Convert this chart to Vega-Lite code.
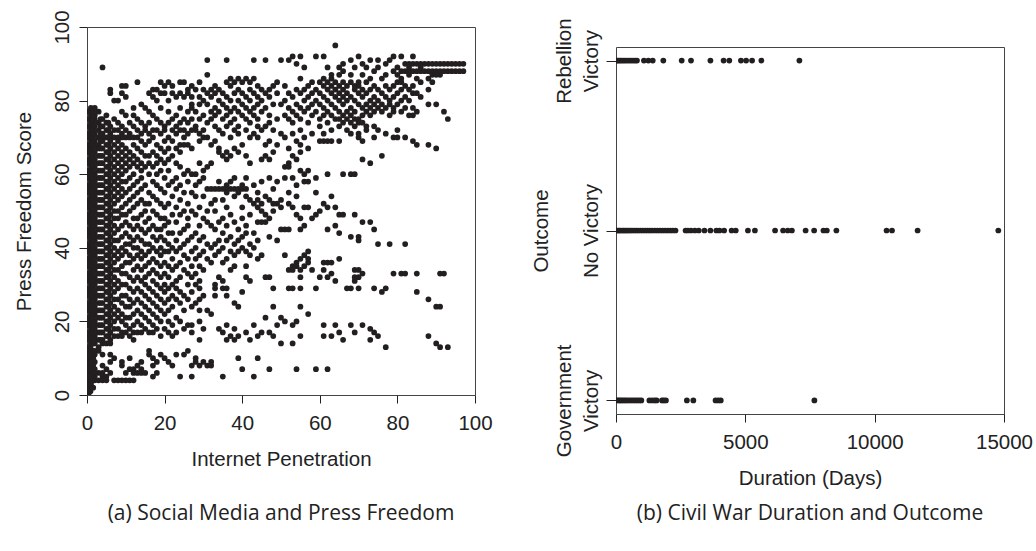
{
"$schema": "https://vega.github.io/schema/vega-lite/v6.json",
"background": "white",
"padding": {"left": 13, "top": 9, "right": 3, "bottom": 5},
"config": {
  "font": "Liberation Sans",
  "view": {"stroke": "#444", "strokeWidth": 1},
  "axis": {"grid": false, "domain": false, "ticks": true, "tickColor": "#222", "tickSize": 8, "labelFont": "Liberation Sans", "labelFontSize": 20.5, "labelColor": "#222", "titleFont": "Liberation Sans", "titleFontSize": 20.5, "titleFontWeight": "normal", "titleColor": "#222", "labelFlush": false, "labelOverlap": false},
  "title": {"font": "Open Sans", "fontSize": 21, "fontWeight": "normal", "color": "#222", "orient": "bottom", "anchor": "middle", "frame": "group"}
},
"datasets": {
"war": [
{"days":30,"outcome":"Rebellion Victory"},{"days":80,"outcome":"Rebellion Victory"},{"days":140,"outcome":"Rebellion Victory"},{"days":200,"outcome":"Rebellion Victory"},{"days":270,"outcome":"Rebellion Victory"},{"days":340,"outcome":"Rebellion Victory"},{"days":420,"outcome":"Rebellion Victory"},{"days":500,"outcome":"Rebellion Victory"},{"days":580,"outcome":"Rebellion Victory"},{"days":660,"outcome":"Rebellion Victory"},{"days":740,"outcome":"Rebellion Victory"},{"days":810,"outcome":"Rebellion Victory"},{"days":1080,"outcome":"Rebellion Victory"},{"days":1250,"outcome":"Rebellion Victory"},{"days":1420,"outcome":"Rebellion Victory"},{"days":1830,"outcome":"Rebellion Victory"},{"days":2540,"outcome":"Rebellion Victory"},{"days":2900,"outcome":"Rebellion Victory"},{"days":3650,"outcome":"Rebellion Victory"},{"days":4160,"outcome":"Rebellion Victory"},{"days":4380,"outcome":"Rebellion Victory"},{"days":4830,"outcome":"Rebellion Victory"},{"days":5030,"outcome":"Rebellion Victory"},{"days":5260,"outcome":"Rebellion Victory"},{"days":5620,"outcome":"Rebellion Victory"},{"days":7090,"outcome":"Rebellion Victory"},
{"days":30,"outcome":"No Victory"},{"days":80,"outcome":"No Victory"},{"days":130,"outcome":"No Victory"},{"days":180,"outcome":"No Victory"},{"days":250,"outcome":"No Victory"},{"days":300,"outcome":"No Victory"},{"days":360,"outcome":"No Victory"},{"days":420,"outcome":"No Victory"},{"days":480,"outcome":"No Victory"},{"days":550,"outcome":"No Victory"},{"days":620,"outcome":"No Victory"},{"days":700,"outcome":"No Victory"},{"days":780,"outcome":"No Victory"},{"days":860,"outcome":"No Victory"},{"days":950,"outcome":"No Victory"},{"days":1040,"outcome":"No Victory"},{"days":1130,"outcome":"No Victory"},{"days":1220,"outcome":"No Victory"},{"days":1310,"outcome":"No Victory"},{"days":1400,"outcome":"No Victory"},{"days":1500,"outcome":"No Victory"},{"days":1600,"outcome":"No Victory"},{"days":1700,"outcome":"No Victory"},{"days":1800,"outcome":"No Victory"},{"days":1900,"outcome":"No Victory"},{"days":2000,"outcome":"No Victory"},{"days":2100,"outcome":"No Victory"},{"days":2200,"outcome":"No Victory"},{"days":2300,"outcome":"No Victory"},{"days":2690,"outcome":"No Victory"},{"days":2780,"outcome":"No Victory"},{"days":2900,"outcome":"No Victory"},{"days":3050,"outcome":"No Victory"},{"days":3200,"outcome":"No Victory"},{"days":3420,"outcome":"No Victory"},{"days":3650,"outcome":"No Victory"},{"days":3880,"outcome":"No Victory"},{"days":4000,"outcome":"No Victory"},{"days":4180,"outcome":"No Victory"},{"days":4470,"outcome":"No Victory"},{"days":4630,"outcome":"No Victory"},{"days":5100,"outcome":"No Victory"},{"days":5370,"outcome":"No Victory"},{"days":6150,"outcome":"No Victory"},{"days":6460,"outcome":"No Victory"},{"days":6640,"outcome":"No Victory"},{"days":6800,"outcome":"No Victory"},{"days":7330,"outcome":"No Victory"},{"days":7660,"outcome":"No Victory"},{"days":8020,"outcome":"No Victory"},{"days":8150,"outcome":"No Victory"},{"days":8520,"outcome":"No Victory"},{"days":10460,"outcome":"No Victory"},{"days":10670,"outcome":"No Victory"},{"days":11660,"outcome":"No Victory"},{"days":14780,"outcome":"No Victory"},
{"days":30,"outcome":"Government Victory"},{"days":90,"outcome":"Government Victory"},{"days":150,"outcome":"Government Victory"},{"days":210,"outcome":"Government Victory"},{"days":280,"outcome":"Government Victory"},{"days":350,"outcome":"Government Victory"},{"days":420,"outcome":"Government Victory"},{"days":500,"outcome":"Government Victory"},{"days":580,"outcome":"Government Victory"},{"days":660,"outcome":"Government Victory"},{"days":740,"outcome":"Government Victory"},{"days":820,"outcome":"Government Victory"},{"days":900,"outcome":"Government Victory"},{"days":980,"outcome":"Government Victory"},{"days":1290,"outcome":"Government Victory"},{"days":1400,"outcome":"Government Victory"},{"days":1500,"outcome":"Government Victory"},{"days":1570,"outcome":"Government Victory"},{"days":1780,"outcome":"Government Victory"},{"days":1850,"outcome":"Government Victory"},{"days":1930,"outcome":"Government Victory"},{"days":2740,"outcome":"Government Victory"},{"days":2990,"outcome":"Government Victory"},{"days":3850,"outcome":"Government Victory"},{"days":3950,"outcome":"Government Victory"},{"days":4050,"outcome":"Government Victory"},{"days":7670,"outcome":"Government Victory"}
],
"press": [
{"net":64,"pf":95},
{"net":53,"pf":92},{"net":55,"pf":92},{"net":59,"pf":92},{"net":61,"pf":92},{"net":70,"pf":92},{"net":79,"pf":92},{"net":81,"pf":92},{"net":84,"pf":92},
{"net":31,"pf":91},{"net":36,"pf":91},{"net":43,"pf":91},{"net":46,"pf":91},{"net":50,"pf":91},{"net":52,"pf":91},{"net":68,"pf":91},{"net":73,"pf":91},{"net":75,"pf":91},{"net":78,"pf":91},
{"net":54,"pf":90},{"net":66,"pf":90},{"net":71,"pf":90},{"net":77,"pf":90},{"net":82,"pf":90},{"net":83,"pf":90},{"net":84,"pf":90},{"net":85,"pf":90},{"net":86,"pf":90},{"net":87,"pf":90},{"net":88,"pf":90},{"net":89,"pf":90},{"net":90,"pf":90},{"net":91,"pf":90},{"net":92,"pf":90},{"net":93,"pf":90},{"net":94,"pf":90},{"net":95,"pf":90},{"net":96,"pf":90},{"net":97,"pf":90},
{"net":4,"pf":89},{"net":56,"pf":89},{"net":62,"pf":89},{"net":65,"pf":89},{"net":69,"pf":89},{"net":72,"pf":89},{"net":75,"pf":89},{"net":80,"pf":89},{"net":83,"pf":89},{"net":86,"pf":89},
{"net":66,"pf":88},{"net":74,"pf":88},{"net":79,"pf":88},{"net":81,"pf":88},{"net":82,"pf":88},{"net":83,"pf":88},{"net":84,"pf":88},{"net":85,"pf":88},{"net":86,"pf":88},{"net":87,"pf":88},{"net":88,"pf":88},{"net":89,"pf":88},{"net":90,"pf":88},{"net":91,"pf":88},{"net":92,"pf":88},{"net":93,"pf":88},{"net":94,"pf":88},{"net":95,"pf":88},{"net":96,"pf":88},{"net":97,"pf":88},
{"net":31,"pf":87},{"net":63,"pf":87},{"net":65,"pf":87},{"net":68,"pf":87},{"net":71,"pf":87},{"net":77,"pf":87},{"net":80,"pf":87},{"net":83,"pf":87},{"net":89,"pf":87},{"net":90,"pf":87},{"net":91,"pf":87},
{"net":37,"pf":86},{"net":39,"pf":86},{"net":41,"pf":86},{"net":43,"pf":86},{"net":55,"pf":86},{"net":61,"pf":86},{"net":63,"pf":86},{"net":73,"pf":86},{"net":76,"pf":86},{"net":81,"pf":86},{"net":85,"pf":86},{"net":88,"pf":86},
{"net":13,"pf":85},{"net":19,"pf":85},{"net":21,"pf":85},{"net":24,"pf":85},{"net":25,"pf":85},{"net":29,"pf":85},{"net":36,"pf":85},{"net":38,"pf":85},{"net":40,"pf":85},{"net":42,"pf":85},{"net":49,"pf":85},{"net":58,"pf":85},{"net":60,"pf":85},{"net":62,"pf":85},{"net":64,"pf":85},{"net":66,"pf":85},{"net":68,"pf":85},{"net":70,"pf":85},{"net":72,"pf":85},{"net":80,"pf":85},{"net":81,"pf":85},{"net":86,"pf":85},{"net":89,"pf":85},
{"net":9,"pf":84},{"net":10,"pf":84},{"net":20,"pf":84},{"net":22,"pf":84},{"net":27,"pf":84},{"net":33,"pf":84},{"net":37,"pf":84},{"net":44,"pf":84},{"net":48,"pf":84},{"net":51,"pf":84},{"net":57,"pf":84},{"net":61,"pf":84},{"net":63,"pf":84},{"net":65,"pf":84},{"net":67,"pf":84},{"net":69,"pf":84},{"net":70,"pf":84},{"net":74,"pf":84},{"net":77,"pf":84},{"net":79,"pf":84},{"net":82,"pf":84},{"net":84,"pf":84},
{"net":6,"pf":83},{"net":17,"pf":83},{"net":18,"pf":83},{"net":26,"pf":83},{"net":28,"pf":83},{"net":30,"pf":83},{"net":32,"pf":83},{"net":34,"pf":83},{"net":39,"pf":83},{"net":42,"pf":83},{"net":45,"pf":83},{"net":47,"pf":83},{"net":54,"pf":83},{"net":56,"pf":83},{"net":59,"pf":83},{"net":62,"pf":83},{"net":64,"pf":83},{"net":66,"pf":83},{"net":69,"pf":83},{"net":71,"pf":83},{"net":73,"pf":83},{"net":75,"pf":83},{"net":78,"pf":83},{"net":81,"pf":83},{"net":83,"pf":83},{"net":88,"pf":83},
{"net":6,"pf":82},{"net":9,"pf":82},{"net":16,"pf":82},{"net":19,"pf":82},{"net":20,"pf":82},{"net":22,"pf":82},{"net":24,"pf":82},{"net":26,"pf":82},{"net":31,"pf":82},{"net":33,"pf":82},{"net":35,"pf":82},{"net":38,"pf":82},{"net":40,"pf":82},{"net":43,"pf":82},{"net":46,"pf":82},{"net":49,"pf":82},{"net":52,"pf":82},{"net":55,"pf":82},{"net":58,"pf":82},{"net":60,"pf":82},{"net":63,"pf":82},{"net":65,"pf":82},{"net":67,"pf":82},{"net":70,"pf":82},{"net":72,"pf":82},{"net":76,"pf":82},{"net":80,"pf":82},{"net":84,"pf":82},{"net":85,"pf":82},
{"net":10,"pf":81},{"net":17,"pf":81},{"net":23,"pf":81},{"net":25,"pf":81},{"net":27,"pf":81},{"net":29,"pf":81},{"net":32,"pf":81},{"net":36,"pf":81},{"net":41,"pf":81},{"net":44,"pf":81},{"net":47,"pf":81},{"net":53,"pf":81},{"net":57,"pf":81},{"net":61,"pf":81},{"net":64,"pf":81},{"net":66,"pf":81},{"net":68,"pf":81},{"net":71,"pf":81},{"net":74,"pf":81},{"net":77,"pf":81},{"net":79,"pf":81},{"net":82,"pf":81},{"net":86,"pf":81},
{"net":7,"pf":80},{"net":8,"pf":80},{"net":18,"pf":80},{"net":21,"pf":80},{"net":30,"pf":80},{"net":34,"pf":80},{"net":37,"pf":80},{"net":39,"pf":80},{"net":42,"pf":80},{"net":45,"pf":80},{"net":51,"pf":80},{"net":56,"pf":80},{"net":59,"pf":80},{"net":62,"pf":80},{"net":65,"pf":80},{"net":67,"pf":80},{"net":69,"pf":80},{"net":73,"pf":80},{"net":75,"pf":80},{"net":78,"pf":80},{"net":81,"pf":80},{"net":83,"pf":80},
{"net":14,"pf":79},{"net":27,"pf":79},{"net":29,"pf":79},{"net":31,"pf":79},{"net":35,"pf":79},{"net":40,"pf":79},{"net":44,"pf":79},{"net":48,"pf":79},{"net":50,"pf":79},{"net":54,"pf":79},{"net":58,"pf":79},{"net":60,"pf":79},{"net":63,"pf":79},{"net":66,"pf":79},{"net":70,"pf":79},{"net":72,"pf":79},{"net":74,"pf":79},{"net":76,"pf":79},{"net":78,"pf":79},{"net":80,"pf":79},{"net":88,"pf":79},{"net":90,"pf":79},
{"net":1,"pf":78},{"net":2,"pf":78},{"net":12,"pf":78},{"net":15,"pf":78},{"net":19,"pf":78},{"net":24,"pf":78},{"net":27,"pf":78},{"net":33,"pf":78},{"net":36,"pf":78},{"net":38,"pf":78},{"net":41,"pf":78},{"net":43,"pf":78},{"net":46,"pf":78},{"net":52,"pf":78},{"net":55,"pf":78},{"net":57,"pf":78},{"net":61,"pf":78},{"net":64,"pf":78},{"net":68,"pf":78},{"net":71,"pf":78},{"net":73,"pf":78},{"net":75,"pf":78},{"net":77,"pf":78},{"net":79,"pf":78},{"net":82,"pf":78},{"net":84,"pf":78},
{"net":0.4,"pf":77},{"net":3,"pf":77},{"net":9,"pf":77},{"net":16,"pf":77},{"net":21,"pf":77},{"net":26,"pf":77},{"net":28,"pf":77},{"net":32,"pf":77},{"net":34,"pf":77},{"net":37,"pf":77},{"net":39,"pf":77},{"net":42,"pf":77},{"net":45,"pf":77},{"net":53,"pf":77},{"net":56,"pf":77},{"net":59,"pf":77},{"net":62,"pf":77},{"net":65,"pf":77},{"net":67,"pf":77},{"net":69,"pf":77},{"net":72,"pf":77},{"net":74,"pf":77},{"net":76,"pf":77},{"net":79,"pf":77},{"net":81,"pf":77},{"net":85,"pf":77},{"net":92,"pf":77},
{"net":1,"pf":76},{"net":2,"pf":76},{"net":5,"pf":76},{"net":10,"pf":76},{"net":12,"pf":76},{"net":17,"pf":76},{"net":23,"pf":76},{"net":30,"pf":76},{"net":33,"pf":76},{"net":36,"pf":76},{"net":40,"pf":76},{"net":43,"pf":76},{"net":47,"pf":76},{"net":51,"pf":76},{"net":54,"pf":76},{"net":58,"pf":76},{"net":61,"pf":76},{"net":63,"pf":76},{"net":66,"pf":76},{"net":68,"pf":76},{"net":71,"pf":76},{"net":73,"pf":76},{"net":78,"pf":76},{"net":83,"pf":76},{"net":84,"pf":76},
{"net":0.4,"pf":75},{"net":2,"pf":75},{"net":4,"pf":75},{"net":7,"pf":75},{"net":13,"pf":75},{"net":18,"pf":75},{"net":22,"pf":75},{"net":25,"pf":75},{"net":27,"pf":75},{"net":29,"pf":75},{"net":32,"pf":75},{"net":35,"pf":75},{"net":38,"pf":75},{"net":41,"pf":75},{"net":44,"pf":75},{"net":49,"pf":75},{"net":52,"pf":75},{"net":55,"pf":75},{"net":60,"pf":75},{"net":64,"pf":75},{"net":65,"pf":75},{"net":67,"pf":75},{"net":69,"pf":75},{"net":70,"pf":75},{"net":93,"pf":75},
{"net":1,"pf":74},{"net":3,"pf":74},{"net":5,"pf":74},{"net":8,"pf":74},{"net":11,"pf":74},{"net":14,"pf":74},{"net":16,"pf":74},{"net":19,"pf":74},{"net":21,"pf":74},{"net":24,"pf":74},{"net":26,"pf":74},{"net":31,"pf":74},{"net":37,"pf":74},{"net":42,"pf":74},{"net":47,"pf":74},{"net":53,"pf":74},{"net":57,"pf":74},{"net":62,"pf":74},{"net":66,"pf":74},{"net":68,"pf":74},{"net":70,"pf":74},{"net":71,"pf":74},
{"net":0.4,"pf":73},{"net":2,"pf":73},{"net":4,"pf":73},{"net":6,"pf":73},{"net":9,"pf":73},{"net":12,"pf":73},{"net":15,"pf":73},{"net":20,"pf":73},{"net":23,"pf":73},{"net":28,"pf":73},{"net":33,"pf":73},{"net":36,"pf":73},{"net":39,"pf":73},{"net":44,"pf":73},{"net":46,"pf":73},{"net":60,"pf":73},{"net":65,"pf":73},{"net":69,"pf":73},{"net":72,"pf":73},{"net":74,"pf":73},
{"net":1,"pf":72},{"net":3,"pf":72},{"net":5,"pf":72},{"net":7,"pf":72},{"net":8,"pf":72},{"net":10,"pf":72},{"net":13,"pf":72},{"net":15,"pf":72},{"net":17,"pf":72},{"net":18,"pf":72},{"net":20,"pf":72},{"net":22,"pf":72},{"net":24,"pf":72},{"net":25,"pf":72},{"net":27,"pf":72},{"net":28,"pf":72},{"net":30,"pf":72},{"net":34,"pf":72},{"net":38,"pf":72},{"net":41,"pf":72},{"net":45,"pf":72},{"net":48,"pf":72},{"net":55,"pf":72},{"net":63,"pf":72},{"net":67,"pf":72},{"net":72,"pf":72},{"net":75,"pf":72},{"net":80,"pf":72},
{"net":0.4,"pf":71},{"net":2,"pf":71},{"net":4,"pf":71},{"net":6,"pf":71},{"net":9,"pf":71},{"net":11,"pf":71},{"net":14,"pf":71},{"net":16,"pf":71},{"net":19,"pf":71},{"net":23,"pf":71},{"net":26,"pf":71},{"net":29,"pf":71},{"net":35,"pf":71},{"net":39,"pf":71},{"net":43,"pf":71},{"net":50,"pf":71},{"net":53,"pf":71},{"net":58,"pf":71},{"net":61,"pf":71},{"net":68,"pf":71},{"net":70,"pf":71},{"net":77,"pf":71},
{"net":0.4,"pf":70},{"net":1,"pf":70},{"net":3,"pf":70},{"net":4,"pf":70},{"net":5,"pf":70},{"net":6,"pf":70},{"net":7,"pf":70},{"net":8,"pf":70},{"net":9,"pf":70},{"net":10,"pf":70},{"net":11,"pf":70},{"net":12,"pf":70},{"net":13,"pf":70},{"net":17,"pf":70},{"net":21,"pf":70},{"net":25,"pf":70},{"net":30,"pf":70},{"net":31,"pf":70},{"net":37,"pf":70},{"net":42,"pf":70},{"net":44,"pf":70},{"net":51,"pf":70},{"net":56,"pf":70},{"net":70,"pf":70},{"net":74,"pf":70},{"net":79,"pf":70},{"net":80,"pf":70},{"net":82,"pf":70},
{"net":1,"pf":69},{"net":2,"pf":69},{"net":4,"pf":69},{"net":6,"pf":69},{"net":8,"pf":69},{"net":14,"pf":69},{"net":16,"pf":69},{"net":20,"pf":69},{"net":22,"pf":69},{"net":29,"pf":69},{"net":33,"pf":69},{"net":47,"pf":69},{"net":54,"pf":69},{"net":60,"pf":69},{"net":61,"pf":69},{"net":62,"pf":69},{"net":63,"pf":69},{"net":65,"pf":69},{"net":71,"pf":69},{"net":84,"pf":69},
{"net":0.4,"pf":68},{"net":2,"pf":68},{"net":3,"pf":68},{"net":5,"pf":68},{"net":7,"pf":68},{"net":9,"pf":68},{"net":12,"pf":68},{"net":15,"pf":68},{"net":18,"pf":68},{"net":24,"pf":68},{"net":25,"pf":68},{"net":26,"pf":68},{"net":32,"pf":68},{"net":40,"pf":68},{"net":46,"pf":68},{"net":49,"pf":68},{"net":55,"pf":68},{"net":85,"pf":68},{"net":88,"pf":68},
{"net":0.4,"pf":67},{"net":1,"pf":67},{"net":3,"pf":67},{"net":4,"pf":67},{"net":6,"pf":67},{"net":8,"pf":67},{"net":10,"pf":67},{"net":13,"pf":67},{"net":19,"pf":67},{"net":21,"pf":67},{"net":23,"pf":67},{"net":27,"pf":67},{"net":34,"pf":67},{"net":38,"pf":67},{"net":52,"pf":67},{"net":57,"pf":67},{"net":90,"pf":67},
{"net":0.4,"pf":66},{"net":2,"pf":66},{"net":5,"pf":66},{"net":7,"pf":66},{"net":9,"pf":66},{"net":11,"pf":66},{"net":14,"pf":66},{"net":17,"pf":66},{"net":20,"pf":66},{"net":24,"pf":66},{"net":34,"pf":66},{"net":36,"pf":66},{"net":39,"pf":66},{"net":48,"pf":66},{"net":55,"pf":66},
{"net":1,"pf":65},{"net":3,"pf":65},{"net":4,"pf":65},{"net":6,"pf":65},{"net":8,"pf":65},{"net":10,"pf":65},{"net":12,"pf":65},{"net":15,"pf":65},{"net":16,"pf":65},{"net":18,"pf":65},{"net":22,"pf":65},{"net":35,"pf":65},{"net":37,"pf":65},{"net":41,"pf":65},{"net":46,"pf":65},{"net":53,"pf":65},{"net":76,"pf":65},
{"net":0.4,"pf":64},{"net":2,"pf":64},{"net":5,"pf":64},{"net":7,"pf":64},{"net":9,"pf":64},{"net":11,"pf":64},{"net":13,"pf":64},{"net":19,"pf":64},{"net":21,"pf":64},{"net":36,"pf":64},{"net":45,"pf":64},{"net":47,"pf":64},{"net":54,"pf":64},{"net":71,"pf":64},
{"net":0.4,"pf":63},{"net":1,"pf":63},{"net":3,"pf":63},{"net":4,"pf":63},{"net":6,"pf":63},{"net":8,"pf":63},{"net":10,"pf":63},{"net":12,"pf":63},{"net":14,"pf":63},{"net":16,"pf":63},{"net":18,"pf":63},{"net":20,"pf":63},{"net":23,"pf":63},{"net":29,"pf":63},{"net":32,"pf":63},{"net":42,"pf":63},{"net":52,"pf":63},{"net":73,"pf":63},
{"net":1,"pf":62},{"net":2,"pf":62},{"net":5,"pf":62},{"net":7,"pf":62},{"net":9,"pf":62},{"net":11,"pf":62},{"net":13,"pf":62},{"net":15,"pf":62},{"net":17,"pf":62},{"net":24,"pf":62},{"net":31,"pf":62},{"net":51,"pf":62},{"net":52,"pf":62},
{"net":0.4,"pf":61},{"net":3,"pf":61},{"net":4,"pf":61},{"net":6,"pf":61},{"net":8,"pf":61},{"net":10,"pf":61},{"net":14,"pf":61},{"net":19,"pf":61},{"net":21,"pf":61},{"net":26,"pf":61},{"net":30,"pf":61},{"net":55,"pf":61},{"net":57,"pf":61},
{"net":0.4,"pf":60},{"net":1,"pf":60},{"net":2,"pf":60},{"net":5,"pf":60},{"net":7,"pf":60},{"net":9,"pf":60},{"net":12,"pf":60},{"net":16,"pf":60},{"net":18,"pf":60},{"net":25,"pf":60},{"net":27,"pf":60},{"net":28,"pf":60},{"net":56,"pf":60},{"net":62,"pf":60},{"net":66,"pf":60},{"net":68,"pf":60},{"net":69,"pf":60},
{"net":0.4,"pf":59},{"net":2,"pf":59},{"net":3,"pf":59},{"net":4,"pf":59},{"net":6,"pf":59},{"net":8,"pf":59},{"net":11,"pf":59},{"net":14,"pf":59},{"net":20,"pf":59},{"net":23,"pf":59},{"net":30,"pf":59},{"net":38,"pf":59},{"net":41,"pf":59},{"net":47,"pf":59},{"net":51,"pf":59},{"net":53,"pf":59},{"net":59,"pf":59},
{"net":1,"pf":58},{"net":2,"pf":58},{"net":5,"pf":58},{"net":7,"pf":58},{"net":9,"pf":58},{"net":10,"pf":58},{"net":13,"pf":58},{"net":17,"pf":58},{"net":22,"pf":58},{"net":26,"pf":58},{"net":29,"pf":58},{"net":34,"pf":58},{"net":37,"pf":58},{"net":45,"pf":58},{"net":49,"pf":58},{"net":56,"pf":58},{"net":57,"pf":58},
{"net":0.4,"pf":57},{"net":3,"pf":57},{"net":4,"pf":57},{"net":6,"pf":57},{"net":8,"pf":57},{"net":12,"pf":57},{"net":15,"pf":57},{"net":18,"pf":57},{"net":21,"pf":57},{"net":24,"pf":57},{"net":28,"pf":57},{"net":36,"pf":57},{"net":40,"pf":57},{"net":43,"pf":57},{"net":54,"pf":57},
{"net":0.4,"pf":56},{"net":1,"pf":56},{"net":2,"pf":56},{"net":5,"pf":56},{"net":7,"pf":56},{"net":9,"pf":56},{"net":11,"pf":56},{"net":14,"pf":56},{"net":19,"pf":56},{"net":23,"pf":56},{"net":31,"pf":56},{"net":32,"pf":56},{"net":33,"pf":56},{"net":34,"pf":56},{"net":35,"pf":56},{"net":36,"pf":56},{"net":37,"pf":56},{"net":38,"pf":56},{"net":39,"pf":56},{"net":40,"pf":56},{"net":41,"pf":56},{"net":48,"pf":56},
{"net":0.4,"pf":55},{"net":2,"pf":55},{"net":3,"pf":55},{"net":4,"pf":55},{"net":6,"pf":55},{"net":8,"pf":55},{"net":10,"pf":55},{"net":13,"pf":55},{"net":16,"pf":55},{"net":20,"pf":55},{"net":25,"pf":55},{"net":27,"pf":55},{"net":36,"pf":55},{"net":39,"pf":55},{"net":44,"pf":55},{"net":52,"pf":55},{"net":59,"pf":55},
{"net":1,"pf":54},{"net":2,"pf":54},{"net":5,"pf":54},{"net":7,"pf":54},{"net":9,"pf":54},{"net":12,"pf":54},{"net":17,"pf":54},{"net":22,"pf":54},{"net":28,"pf":54},{"net":30,"pf":54},{"net":38,"pf":54},{"net":41,"pf":54},{"net":46,"pf":54},{"net":54,"pf":54},{"net":63,"pf":54},
{"net":0.4,"pf":53},{"net":3,"pf":53},{"net":4,"pf":53},{"net":6,"pf":53},{"net":8,"pf":53},{"net":11,"pf":53},{"net":14,"pf":53},{"net":18,"pf":53},{"net":24,"pf":53},{"net":33,"pf":53},{"net":35,"pf":53},{"net":42,"pf":53},{"net":44,"pf":53},{"net":47,"pf":53},{"net":50,"pf":53},
{"net":0.4,"pf":52},{"net":1,"pf":52},{"net":2,"pf":52},{"net":5,"pf":52},{"net":7,"pf":52},{"net":10,"pf":52},{"net":13,"pf":52},{"net":15,"pf":52},{"net":16,"pf":52},{"net":19,"pf":52},{"net":21,"pf":52},{"net":26,"pf":52},{"net":32,"pf":52},{"net":43,"pf":52},{"net":45,"pf":52},{"net":48,"pf":52},{"net":49,"pf":52},{"net":52,"pf":52},{"net":61,"pf":52},
{"net":0.4,"pf":51},{"net":2,"pf":51},{"net":3,"pf":51},{"net":4,"pf":51},{"net":6,"pf":51},{"net":9,"pf":51},{"net":12,"pf":51},{"net":20,"pf":51},{"net":23,"pf":51},{"net":29,"pf":51},{"net":36,"pf":51},{"net":40,"pf":51},{"net":44,"pf":51},{"net":50,"pf":51},{"net":53,"pf":51},{"net":56,"pf":51},{"net":57,"pf":51},{"net":62,"pf":51},{"net":64,"pf":51},
{"net":1,"pf":50},{"net":2,"pf":50},{"net":5,"pf":50},{"net":7,"pf":50},{"net":8,"pf":50},{"net":11,"pf":50},{"net":15,"pf":50},{"net":17,"pf":50},{"net":25,"pf":50},{"net":27,"pf":50},{"net":31,"pf":50},{"net":33,"pf":50},{"net":45,"pf":50},{"net":48,"pf":50},{"net":60,"pf":50},
{"net":0.4,"pf":49},{"net":3,"pf":49},{"net":4,"pf":49},{"net":6,"pf":49},{"net":9,"pf":49},{"net":10,"pf":49},{"net":14,"pf":49},{"net":18,"pf":49},{"net":22,"pf":49},{"net":24,"pf":49},{"net":28,"pf":49},{"net":37,"pf":49},{"net":42,"pf":49},{"net":46,"pf":49},{"net":54,"pf":49},{"net":59,"pf":49},{"net":65,"pf":49},{"net":66,"pf":49},{"net":69,"pf":49},
{"net":0.4,"pf":48},{"net":1,"pf":48},{"net":2,"pf":48},{"net":5,"pf":48},{"net":7,"pf":48},{"net":8,"pf":48},{"net":12,"pf":48},{"net":13,"pf":48},{"net":16,"pf":48},{"net":19,"pf":48},{"net":20,"pf":48},{"net":26,"pf":48},{"net":30,"pf":48},{"net":35,"pf":48},{"net":40,"pf":48},{"net":47,"pf":48},{"net":55,"pf":48},{"net":58,"pf":48},
{"net":0.4,"pf":47},{"net":2,"pf":47},{"net":3,"pf":47},{"net":4,"pf":47},{"net":6,"pf":47},{"net":10,"pf":47},{"net":15,"pf":47},{"net":21,"pf":47},{"net":23,"pf":47},{"net":31,"pf":47},{"net":34,"pf":47},{"net":38,"pf":47},{"net":44,"pf":47},{"net":45,"pf":47},{"net":46,"pf":47},{"net":71,"pf":47},{"net":73,"pf":47},
{"net":1,"pf":46},{"net":2,"pf":46},{"net":5,"pf":46},{"net":7,"pf":46},{"net":9,"pf":46},{"net":11,"pf":46},{"net":13,"pf":46},{"net":17,"pf":46},{"net":20,"pf":46},{"net":26,"pf":46},{"net":29,"pf":46},{"net":32,"pf":46},{"net":36,"pf":46},{"net":41,"pf":46},{"net":56,"pf":46},{"net":64,"pf":46},
{"net":0.4,"pf":45},{"net":3,"pf":45},{"net":4,"pf":45},{"net":6,"pf":45},{"net":8,"pf":45},{"net":12,"pf":45},{"net":14,"pf":45},{"net":16,"pf":45},{"net":18,"pf":45},{"net":19,"pf":45},{"net":25,"pf":45},{"net":33,"pf":45},{"net":39,"pf":45},{"net":50,"pf":45},{"net":51,"pf":45},{"net":52,"pf":45},{"net":55,"pf":45},{"net":62,"pf":45},{"net":74,"pf":45},
{"net":0.4,"pf":44},{"net":1,"pf":44},{"net":2,"pf":44},{"net":5,"pf":44},{"net":7,"pf":44},{"net":10,"pf":44},{"net":15,"pf":44},{"net":21,"pf":44},{"net":22,"pf":44},{"net":24,"pf":44},{"net":28,"pf":44},{"net":35,"pf":44},{"net":41,"pf":44},{"net":43,"pf":44},{"net":65,"pf":44},
{"net":0.4,"pf":43},{"net":2,"pf":43},{"net":3,"pf":43},{"net":4,"pf":43},{"net":6,"pf":43},{"net":9,"pf":43},{"net":11,"pf":43},{"net":13,"pf":43},{"net":17,"pf":43},{"net":19,"pf":43},{"net":27,"pf":43},{"net":30,"pf":43},{"net":37,"pf":43},{"net":40,"pf":43},{"net":47,"pf":43},{"net":68,"pf":43},{"net":70,"pf":43},
{"net":1,"pf":42},{"net":2,"pf":42},{"net":5,"pf":42},{"net":7,"pf":42},{"net":8,"pf":42},{"net":12,"pf":42},{"net":14,"pf":42},{"net":18,"pf":42},{"net":20,"pf":42},{"net":23,"pf":42},{"net":26,"pf":42},{"net":29,"pf":42},{"net":34,"pf":42},{"net":36,"pf":42},{"net":39,"pf":42},{"net":44,"pf":42},{"net":49,"pf":42},{"net":70,"pf":42},
{"net":0.4,"pf":41},{"net":3,"pf":41},{"net":4,"pf":41},{"net":6,"pf":41},{"net":10,"pf":41},{"net":11,"pf":41},{"net":15,"pf":41},{"net":16,"pf":41},{"net":21,"pf":41},{"net":25,"pf":41},{"net":31,"pf":41},{"net":33,"pf":41},{"net":38,"pf":41},{"net":42,"pf":41},{"net":75,"pf":41},{"net":78,"pf":41},{"net":82,"pf":41},
{"net":0.4,"pf":40},{"net":1,"pf":40},{"net":2,"pf":40},{"net":5,"pf":40},{"net":7,"pf":40},{"net":9,"pf":40},{"net":12,"pf":40},{"net":13,"pf":40},{"net":17,"pf":40},{"net":19,"pf":40},{"net":22,"pf":40},{"net":24,"pf":40},{"net":28,"pf":40},{"net":32,"pf":40},{"net":35,"pf":40},{"net":40,"pf":40},{"net":43,"pf":40},
{"net":0.4,"pf":39},{"net":2,"pf":39},{"net":3,"pf":39},{"net":4,"pf":39},{"net":6,"pf":39},{"net":8,"pf":39},{"net":10,"pf":39},{"net":14,"pf":39},{"net":16,"pf":39},{"net":18,"pf":39},{"net":20,"pf":39},{"net":21,"pf":39},{"net":23,"pf":39},{"net":27,"pf":39},{"net":30,"pf":39},{"net":34,"pf":39},{"net":37,"pf":39},{"net":39,"pf":39},{"net":41,"pf":39},{"net":57,"pf":39},
{"net":1,"pf":38},{"net":2,"pf":38},{"net":5,"pf":38},{"net":7,"pf":38},{"net":9,"pf":38},{"net":11,"pf":38},{"net":13,"pf":38},{"net":15,"pf":38},{"net":19,"pf":38},{"net":25,"pf":38},{"net":29,"pf":38},{"net":33,"pf":38},{"net":38,"pf":38},{"net":42,"pf":38},{"net":45,"pf":38},{"net":51,"pf":38},{"net":56,"pf":38},
{"net":0.4,"pf":37},{"net":3,"pf":37},{"net":4,"pf":37},{"net":6,"pf":37},{"net":8,"pf":37},{"net":12,"pf":37},{"net":14,"pf":37},{"net":17,"pf":37},{"net":22,"pf":37},{"net":26,"pf":37},{"net":28,"pf":37},{"net":31,"pf":37},{"net":36,"pf":37},{"net":44,"pf":37},{"net":55,"pf":37},{"net":57,"pf":37},{"net":65,"pf":37},
{"net":0.4,"pf":36},{"net":1,"pf":36},{"net":2,"pf":36},{"net":5,"pf":36},{"net":7,"pf":36},{"net":10,"pf":36},{"net":11,"pf":36},{"net":16,"pf":36},{"net":18,"pf":36},{"net":20,"pf":36},{"net":24,"pf":36},{"net":32,"pf":36},{"net":35,"pf":36},{"net":54,"pf":36},{"net":57,"pf":36},{"net":61,"pf":36},{"net":62,"pf":36},{"net":63,"pf":36},
{"net":0.4,"pf":35},{"net":2,"pf":35},{"net":3,"pf":35},{"net":4,"pf":35},{"net":6,"pf":35},{"net":9,"pf":35},{"net":13,"pf":35},{"net":15,"pf":35},{"net":19,"pf":35},{"net":21,"pf":35},{"net":23,"pf":35},{"net":27,"pf":35},{"net":29,"pf":35},{"net":38,"pf":35},{"net":41,"pf":35},{"net":53,"pf":35},{"net":54,"pf":35},{"net":56,"pf":35},
{"net":1,"pf":34},{"net":2,"pf":34},{"net":5,"pf":34},{"net":7,"pf":34},{"net":8,"pf":34},{"net":12,"pf":34},{"net":14,"pf":34},{"net":17,"pf":34},{"net":22,"pf":34},{"net":25,"pf":34},{"net":30,"pf":34},{"net":37,"pf":34},{"net":52,"pf":34},{"net":53,"pf":34},{"net":55,"pf":34},{"net":58,"pf":34},{"net":61,"pf":34},{"net":69,"pf":34},{"net":70,"pf":34},
{"net":0.4,"pf":33},{"net":3,"pf":33},{"net":4,"pf":33},{"net":6,"pf":33},{"net":9,"pf":33},{"net":10,"pf":33},{"net":16,"pf":33},{"net":18,"pf":33},{"net":20,"pf":33},{"net":26,"pf":33},{"net":28,"pf":33},{"net":63,"pf":33},{"net":71,"pf":33},{"net":79,"pf":33},{"net":81,"pf":33},{"net":82,"pf":33},{"net":85,"pf":33},{"net":91,"pf":33},{"net":92,"pf":33},
{"net":0.4,"pf":32},{"net":1,"pf":32},{"net":2,"pf":32},{"net":5,"pf":32},{"net":7,"pf":32},{"net":11,"pf":32},{"net":13,"pf":32},{"net":15,"pf":32},{"net":19,"pf":32},{"net":21,"pf":32},{"net":24,"pf":32},{"net":27,"pf":32},{"net":34,"pf":32},{"net":41,"pf":32},{"net":46,"pf":32},{"net":47,"pf":32},{"net":55,"pf":32},{"net":60,"pf":32},{"net":62,"pf":32},{"net":69,"pf":32},{"net":70,"pf":32},
{"net":0.4,"pf":31},{"net":2,"pf":31},{"net":3,"pf":31},{"net":4,"pf":31},{"net":6,"pf":31},{"net":8,"pf":31},{"net":12,"pf":31},{"net":14,"pf":31},{"net":17,"pf":31},{"net":23,"pf":31},{"net":29,"pf":31},{"net":35,"pf":31},{"net":42,"pf":31},{"net":64,"pf":31},{"net":69,"pf":31},
{"net":1,"pf":30},{"net":2,"pf":30},{"net":5,"pf":30},{"net":7,"pf":30},{"net":9,"pf":30},{"net":10,"pf":30},{"net":15,"pf":30},{"net":18,"pf":30},{"net":20,"pf":30},{"net":22,"pf":30},{"net":26,"pf":30},{"net":28,"pf":30},{"net":33,"pf":30},
{"net":0.4,"pf":29},{"net":3,"pf":29},{"net":4,"pf":29},{"net":6,"pf":29},{"net":8,"pf":29},{"net":11,"pf":29},{"net":13,"pf":29},{"net":16,"pf":29},{"net":19,"pf":29},{"net":21,"pf":29},{"net":23,"pf":29},{"net":29,"pf":29},{"net":33,"pf":29},{"net":35,"pf":29},{"net":36,"pf":29},{"net":48,"pf":29},{"net":52,"pf":29},{"net":53,"pf":29},{"net":55,"pf":29},{"net":59,"pf":29},{"net":67,"pf":29},{"net":68,"pf":29},{"net":70,"pf":29},{"net":74,"pf":29},{"net":77,"pf":29},
{"net":0.4,"pf":28},{"net":1,"pf":28},{"net":2,"pf":28},{"net":5,"pf":28},{"net":7,"pf":28},{"net":12,"pf":28},{"net":14,"pf":28},{"net":17,"pf":28},{"net":20,"pf":28},{"net":24,"pf":28},{"net":27,"pf":28},{"net":40,"pf":28},{"net":76,"pf":28},{"net":85,"pf":28},
{"net":0.4,"pf":27},{"net":2,"pf":27},{"net":3,"pf":27},{"net":4,"pf":27},{"net":6,"pf":27},{"net":9,"pf":27},{"net":10,"pf":27},{"net":15,"pf":27},{"net":18,"pf":27},{"net":22,"pf":27},{"net":25,"pf":27},{"net":30,"pf":27},{"net":33,"pf":27},{"net":36,"pf":27},
{"net":1,"pf":26},{"net":2,"pf":26},{"net":5,"pf":26},{"net":7,"pf":26},{"net":8,"pf":26},{"net":11,"pf":26},{"net":13,"pf":26},{"net":16,"pf":26},{"net":19,"pf":26},{"net":21,"pf":26},{"net":23,"pf":26},{"net":26,"pf":26},{"net":29,"pf":26},{"net":88,"pf":26},
{"net":0.4,"pf":25},{"net":3,"pf":25},{"net":4,"pf":25},{"net":6,"pf":25},{"net":9,"pf":25},{"net":12,"pf":25},{"net":14,"pf":25},{"net":17,"pf":25},{"net":20,"pf":25},{"net":24,"pf":25},{"net":28,"pf":25},{"net":38,"pf":25},
{"net":0.4,"pf":24},{"net":1,"pf":24},{"net":2,"pf":24},{"net":5,"pf":24},{"net":7,"pf":24},{"net":10,"pf":24},{"net":11,"pf":24},{"net":15,"pf":24},{"net":18,"pf":24},{"net":22,"pf":24},{"net":27,"pf":24},{"net":39,"pf":24},{"net":48,"pf":24},{"net":55,"pf":24},{"net":90,"pf":24},{"net":91,"pf":24},
{"net":0.4,"pf":23},{"net":2,"pf":23},{"net":3,"pf":23},{"net":4,"pf":23},{"net":6,"pf":23},{"net":8,"pf":23},{"net":13,"pf":23},{"net":16,"pf":23},{"net":19,"pf":23},{"net":21,"pf":23},{"net":25,"pf":23},{"net":29,"pf":23},{"net":31,"pf":23},
{"net":1,"pf":22},{"net":2,"pf":22},{"net":5,"pf":22},{"net":7,"pf":22},{"net":9,"pf":22},{"net":12,"pf":22},{"net":14,"pf":22},{"net":17,"pf":22},{"net":20,"pf":22},{"net":32,"pf":22},{"net":57,"pf":22},
{"net":0.4,"pf":21},{"net":3,"pf":21},{"net":4,"pf":21},{"net":6,"pf":21},{"net":8,"pf":21},{"net":10,"pf":21},{"net":11,"pf":21},{"net":15,"pf":21},{"net":18,"pf":21},{"net":23,"pf":21},{"net":46,"pf":21},{"net":50,"pf":21},
{"net":0.4,"pf":20},{"net":1,"pf":20},{"net":2,"pf":20},{"net":5,"pf":20},{"net":7,"pf":20},{"net":9,"pf":20},{"net":13,"pf":20},{"net":16,"pf":20},{"net":19,"pf":20},{"net":21,"pf":20},{"net":24,"pf":20},{"net":29,"pf":20},{"net":51,"pf":20},{"net":54,"pf":20},
{"net":0.4,"pf":19},{"net":2,"pf":19},{"net":3,"pf":19},{"net":4,"pf":19},{"net":6,"pf":19},{"net":10,"pf":19},{"net":12,"pf":19},{"net":14,"pf":19},{"net":17,"pf":19},{"net":22,"pf":19},{"net":26,"pf":19},{"net":27,"pf":19},{"net":36,"pf":19},{"net":43,"pf":19},{"net":49,"pf":19},{"net":53,"pf":19},{"net":61,"pf":19},{"net":64,"pf":19},{"net":68,"pf":19},{"net":71,"pf":19},
{"net":1,"pf":18},{"net":2,"pf":18},{"net":5,"pf":18},{"net":7,"pf":18},{"net":8,"pf":18},{"net":11,"pf":18},{"net":15,"pf":18},{"net":18,"pf":18},{"net":20,"pf":18},{"net":25,"pf":18},{"net":30,"pf":18},{"net":34,"pf":18},{"net":38,"pf":18},{"net":73,"pf":18},
{"net":0.4,"pf":17},{"net":3,"pf":17},{"net":4,"pf":17},{"net":6,"pf":17},{"net":9,"pf":17},{"net":10,"pf":17},{"net":12,"pf":17},{"net":13,"pf":17},{"net":14,"pf":17},{"net":16,"pf":17},{"net":17,"pf":17},{"net":21,"pf":17},{"net":23,"pf":17},{"net":27,"pf":17},{"net":35,"pf":17},{"net":41,"pf":17},{"net":45,"pf":17},{"net":47,"pf":17},{"net":65,"pf":17},{"net":69,"pf":17},{"net":74,"pf":17},
{"net":0.4,"pf":16},{"net":1,"pf":16},{"net":2,"pf":16},{"net":5,"pf":16},{"net":7,"pf":16},{"net":8,"pf":16},{"net":9,"pf":16},{"net":11,"pf":16},{"net":19,"pf":16},{"net":22,"pf":16},{"net":37,"pf":16},{"net":39,"pf":16},{"net":44,"pf":16},{"net":48,"pf":16},{"net":55,"pf":16},{"net":61,"pf":16},{"net":63,"pf":16},{"net":75,"pf":16},{"net":88,"pf":16},
{"net":0.4,"pf":15},{"net":2,"pf":15},{"net":3,"pf":15},{"net":4,"pf":15},{"net":6,"pf":15},{"net":12,"pf":15},{"net":29,"pf":15},{"net":36,"pf":15},{"net":38,"pf":15},{"net":42,"pf":15},{"net":66,"pf":15},{"net":73,"pf":15},
{"net":1,"pf":14},{"net":2,"pf":14},{"net":4,"pf":14},{"net":5,"pf":14},{"net":6,"pf":14},{"net":50,"pf":14},{"net":53,"pf":14},{"net":90,"pf":14},
{"net":0.4,"pf":13},{"net":3,"pf":13},{"net":77,"pf":13},{"net":91,"pf":13},{"net":93,"pf":13},
{"net":0.4,"pf":12},{"net":1,"pf":12},{"net":2,"pf":12},{"net":3,"pf":12},{"net":16,"pf":12},{"net":26,"pf":12},
{"net":0.4,"pf":11},{"net":2,"pf":11},{"net":4,"pf":11},{"net":6,"pf":11},{"net":16,"pf":11},{"net":19,"pf":11},{"net":23,"pf":11},{"net":25,"pf":11},
{"net":0.4,"pf":10},{"net":1,"pf":10},{"net":7,"pf":10},{"net":11,"pf":10},{"net":17,"pf":10},{"net":20,"pf":10},{"net":28,"pf":10},{"net":39,"pf":10},{"net":44,"pf":10},
{"net":0.4,"pf":9},{"net":2,"pf":9},{"net":6,"pf":9},{"net":9,"pf":9},{"net":14,"pf":9},{"net":18,"pf":9},{"net":21,"pf":9},{"net":28,"pf":9},{"net":30,"pf":9},{"net":32,"pf":9},
{"net":0.4,"pf":8},{"net":1,"pf":8},{"net":4,"pf":8},{"net":9,"pf":8},{"net":13,"pf":8},{"net":17,"pf":8},{"net":22,"pf":8},{"net":27,"pf":8},{"net":29,"pf":8},{"net":31,"pf":8},{"net":32,"pf":8},
{"net":0.4,"pf":7},{"net":2,"pf":7},{"net":5,"pf":7},{"net":11,"pf":7},{"net":12,"pf":7},{"net":14,"pf":7},{"net":40,"pf":7},{"net":47,"pf":7},{"net":54,"pf":7},{"net":59,"pf":7},{"net":62,"pf":7},
{"net":0.4,"pf":6},{"net":1,"pf":6},{"net":3,"pf":6},{"net":4,"pf":6},{"net":6,"pf":6},{"net":10,"pf":6},{"net":12,"pf":6},{"net":13,"pf":6},{"net":14,"pf":6},{"net":15,"pf":6},{"net":18,"pf":6},
{"net":0.4,"pf":5},{"net":2,"pf":5},{"net":4,"pf":5},{"net":5,"pf":5},{"net":17,"pf":5},{"net":24,"pf":5},{"net":27,"pf":5},{"net":35,"pf":5},{"net":43,"pf":5},
{"net":0.4,"pf":4},{"net":1,"pf":4},{"net":2,"pf":4},{"net":3,"pf":4},{"net":4,"pf":4},{"net":5,"pf":4},{"net":7,"pf":4},{"net":8,"pf":4},{"net":9,"pf":4},{"net":10,"pf":4},{"net":11,"pf":4},{"net":12,"pf":4},
{"net":0.4,"pf":3},{"net":1,"pf":3},{"net":0.4,"pf":2},{"net":1,"pf":2},{"net":0.4,"pf":1},{"net":0.4,"pf":0},
{"net":1.6,"pf":2},{"net":1.6,"pf":4},{"net":1.6,"pf":6},{"net":1.6,"pf":8},{"net":1.6,"pf":10},{"net":1.6,"pf":12},{"net":1.6,"pf":14},{"net":1.6,"pf":15},{"net":1.6,"pf":16},{"net":1.6,"pf":17},{"net":1.6,"pf":18},{"net":1.6,"pf":19},{"net":1.6,"pf":20},{"net":1.6,"pf":21},{"net":1.6,"pf":22},{"net":1.6,"pf":23},{"net":1.6,"pf":24},{"net":1.6,"pf":25},{"net":1.6,"pf":26},{"net":1.6,"pf":27},{"net":1.6,"pf":28},{"net":1.6,"pf":29},{"net":1.6,"pf":30},{"net":1.6,"pf":31},{"net":1.6,"pf":32},{"net":1.6,"pf":33},{"net":1.6,"pf":34},{"net":1.6,"pf":35},{"net":1.6,"pf":36},{"net":1.6,"pf":37},{"net":1.6,"pf":38},{"net":1.6,"pf":39},{"net":1.6,"pf":40},{"net":1.6,"pf":41},{"net":1.6,"pf":42},{"net":1.6,"pf":43},{"net":1.6,"pf":44},{"net":1.6,"pf":45},{"net":1.6,"pf":46},{"net":1.6,"pf":47},{"net":1.6,"pf":48},{"net":1.6,"pf":49},{"net":1.6,"pf":50},{"net":1.6,"pf":51},{"net":1.6,"pf":52},{"net":1.6,"pf":53},{"net":1.6,"pf":54},{"net":1.6,"pf":55},{"net":1.6,"pf":56},{"net":1.6,"pf":57},{"net":1.6,"pf":58},{"net":1.6,"pf":59},{"net":1.6,"pf":60},{"net":1.6,"pf":61},{"net":1.6,"pf":62},{"net":1.6,"pf":63},{"net":1.6,"pf":64},{"net":1.6,"pf":65},{"net":1.6,"pf":66},{"net":1.6,"pf":67},{"net":1.6,"pf":68},{"net":1.6,"pf":69},{"net":1.6,"pf":70},{"net":1.6,"pf":71},{"net":1.6,"pf":72},{"net":1.6,"pf":73},{"net":1.6,"pf":74},{"net":1.6,"pf":75},{"net":1.6,"pf":76},{"net":1.6,"pf":77},
{"net":3.5,"pf":15},{"net":3.5,"pf":17},{"net":3.5,"pf":19},{"net":3.5,"pf":21},{"net":3.5,"pf":23},{"net":3.5,"pf":25},{"net":3.5,"pf":27},{"net":3.5,"pf":29},{"net":3.5,"pf":31},{"net":3.5,"pf":33},{"net":3.5,"pf":35},{"net":3.5,"pf":37},{"net":3.5,"pf":39},{"net":3.5,"pf":41},{"net":3.5,"pf":43},{"net":3.5,"pf":45},{"net":3.5,"pf":47},{"net":3.5,"pf":49},{"net":3.5,"pf":51},{"net":3.5,"pf":53},{"net":3.5,"pf":55},{"net":3.5,"pf":57},{"net":3.5,"pf":59},{"net":3.5,"pf":61},{"net":3.5,"pf":63},{"net":3.5,"pf":65},{"net":3.5,"pf":67},{"net":3.5,"pf":69},{"net":3.5,"pf":71},{"net":3.5,"pf":73},{"net":3.5,"pf":75},
{"net":5.5,"pf":16},{"net":5.5,"pf":18},{"net":5.5,"pf":20},{"net":5.5,"pf":22},{"net":5.5,"pf":24},{"net":5.5,"pf":26},{"net":5.5,"pf":28},{"net":5.5,"pf":30},{"net":5.5,"pf":32},{"net":5.5,"pf":34},{"net":5.5,"pf":36},{"net":5.5,"pf":38},{"net":5.5,"pf":40},{"net":5.5,"pf":42},{"net":5.5,"pf":44},{"net":5.5,"pf":46},{"net":5.5,"pf":48},{"net":5.5,"pf":50},{"net":5.5,"pf":52},{"net":5.5,"pf":54},{"net":5.5,"pf":56},{"net":5.5,"pf":58},{"net":5.5,"pf":60},{"net":5.5,"pf":62},{"net":5.5,"pf":64},{"net":5.5,"pf":66},{"net":5.5,"pf":68},{"net":5.5,"pf":70},{"net":5.5,"pf":72},{"net":5.5,"pf":74},
{"net":0.9,"pf":1},{"net":0.9,"pf":3},{"net":0.9,"pf":5},{"net":0.9,"pf":7},{"net":0.9,"pf":9},{"net":0.9,"pf":11},{"net":0.9,"pf":13}
]
},
"spacing": 37,
"hconcat": [
  {
    "width": 388, "height": 368,
    "title": {"text": "(a) Social Media and Press Freedom", "offset": 33},
    "data": {"name": "press"},
    "mark": {"type": "circle", "size": 33, "color": "#231f20", "opacity": 1, "clip": true},
    "encoding": {
      "x": {"field": "net", "type": "quantitative", "scale": {"domain": [0, 100], "nice": false, "zero": false},
            "axis": {"values": [0, 20, 40, 60, 80, 100], "title": "Internet Penetration", "labelPadding": 10, "titlePadding": 16}},
      "y": {"field": "pf", "type": "quantitative", "scale": {"domain": [0, 100], "nice": false, "zero": false},
            "axis": {"values": [0, 20, 40, 60, 80, 100], "title": "Press Freedom Score", "labelAngle": -90, "labelAlign": "center", "labelBaseline": "bottom", "labelPadding": 7, "titlePadding": 18}}
    }
  },
  {
    "spacing": 0,
    "bounds": "flush",
    "vconcat": [
      {
        "width": 388, "height": 20,
        "view": {"stroke": null},
        "data": {"values": [{"k": 1}]},
        "mark": {"type": "text", "text": ""},
        "encoding": {}
      },
      {
        "width": 388, "height": 367,
        "title": {"text": "(b) Civil War Duration and Outcome", "offset": 14},
        "data": {"name": "war"},
        "mark": {"type": "circle", "size": 33, "color": "#231f20", "opacity": 1, "clip": true},
        "encoding": {
          "x": {"field": "days", "type": "quantitative", "scale": {"domain": [0, 15000], "nice": false, "zero": false},
                "axis": {"values": [0, 5000, 10000, 15000], "format": "d", "title": "Duration (Days)", "labelPadding": 10, "titlePadding": 16}},
          "y": {"field": "outcome", "type": "nominal", "sort": ["Rebellion Victory", "No Victory", "Government Victory"],
                "scale": {"type": "point", "padding": 0.08},
                "axis": {"title": "Outcome", "tickSize": 10, "labelAngle": -90, "labelAlign": "center", "labelBaseline": "bottom", "labelPadding": 32, "labelLineHeight": 27,
                         "labelExpr": "datum.label == 'No Victory' ? ['', datum.label] : split(datum.label, ' ')", "titlePadding": 3}}
        }
      }
    ]
  }
]
}
